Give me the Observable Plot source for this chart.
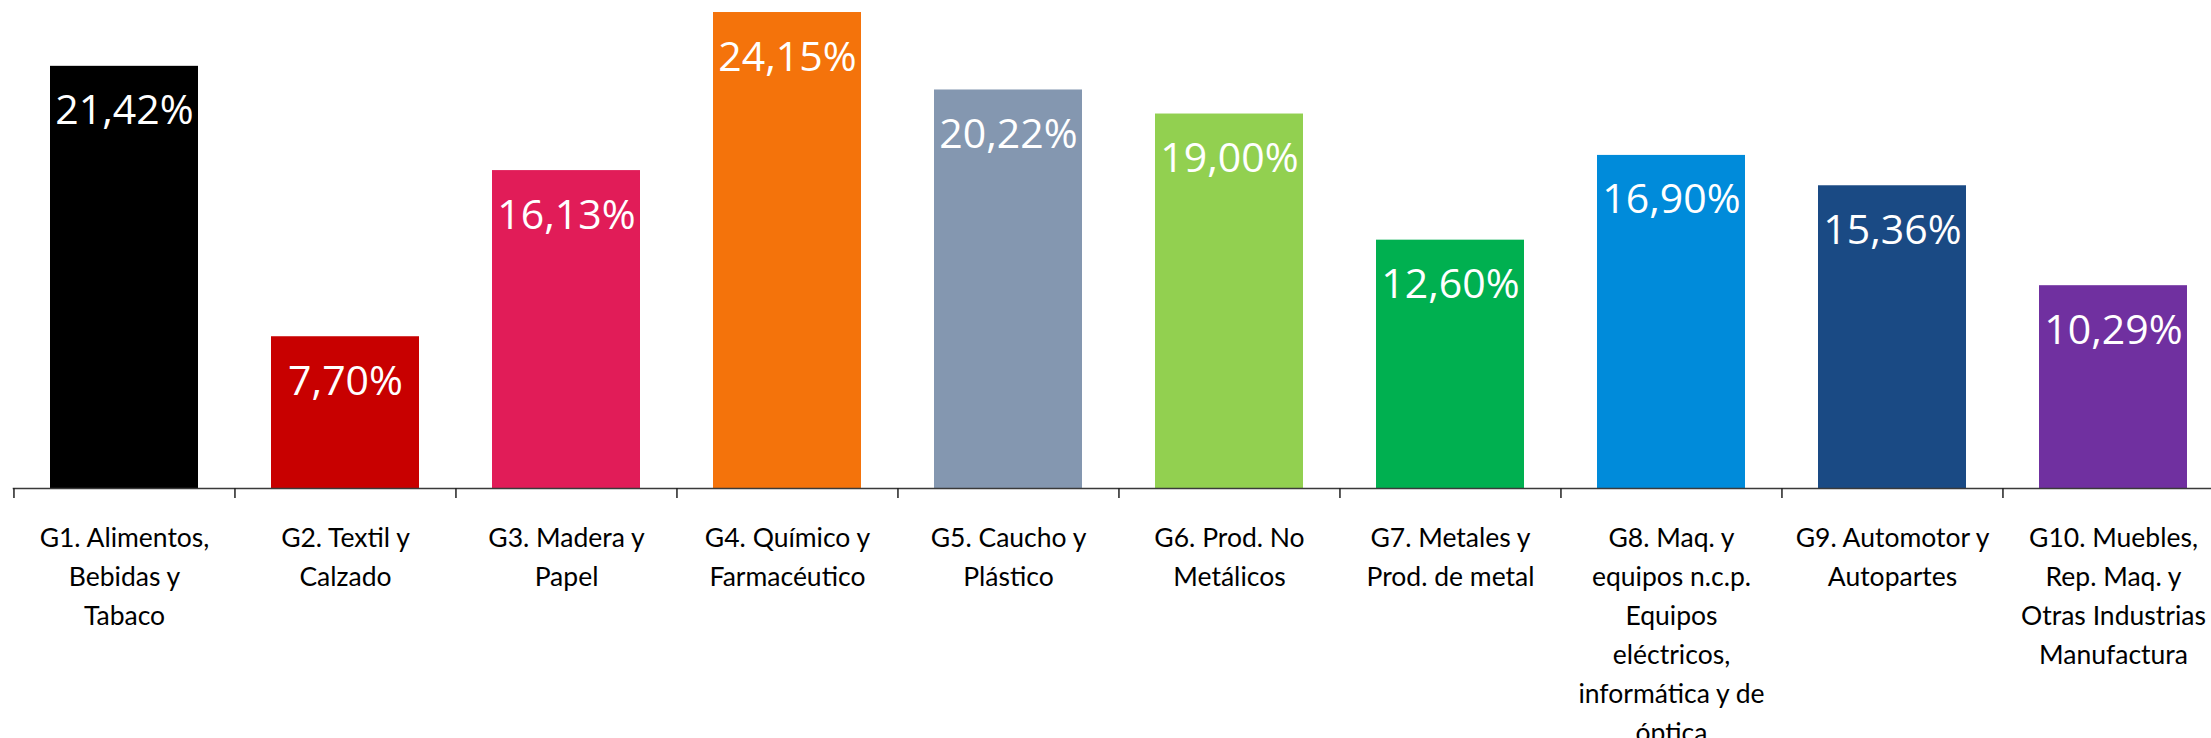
<!DOCTYPE html>
<html>
<head>
<meta charset="utf-8">
<script src="https://cdn.jsdelivr.net/npm/d3@7"></script>
<script src="https://cdn.jsdelivr.net/npm/@observablehq/plot@0.6"></script>
<style>
  html, body { margin: 0; padding: 0; background: #ffffff; }
  #chart svg { display: block; }
</style>
</head>
<body>
<div id="chart"></div>
<script>
const categories = ["G1","G2","G3","G4","G5","G6","G7","G8","G9","G10"];
const categoryLabels = [
  "G1. Alimentos,\nBebidas y\nTabaco",
  "G2. Textil y\nCalzado",
  "G3. Madera y\nPapel",
  "G4. Químico y\nFarmacéutico",
  "G5. Caucho y\nPlástico",
  "G6. Prod. No\nMetálicos",
  "G7. Metales y\nProd. de metal",
  "G8. Maq. y\nequipos n.c.p.\nEquipos\neléctricos,\ninformática y de\nóptica",
  "G9. Automotor y\nAutopartes",
  "G10. Muebles,\nRep. Maq. y\nOtras Industrias\nManufactura"
];
const values = [21.42, 7.70, 16.13, 24.15, 20.22, 19.00, 12.60, 16.90, 15.36, 10.29];
const colors = ["#000000","#C80000","#E11C58","#F4730B","#8497B0","#92D050","#00B050","#008BDA","#1A4A84","#7030A0"];

const data = categories.map((c, i) => ({cat: c, value: values[i], label: categoryLabels[i], color: colors[i]}));
const labelOf = new Map(data.map(d => [d.cat, d.label]));
const fmt = v => v.toFixed(2).replace(".", ",") + "%";

const W = 2211, H = 738;
const chart = Plot.plot({
  width: W,
  height: H,
  marginLeft: 12.7,
  marginRight: 0,
  marginTop: 0,
  marginBottom: 250,
  style: {background: "transparent"},
  x: {type: "band", domain: categories, range: [12.7, 2223.7], paddingInner: 0.33, paddingOuter: 0.165, axis: null},
  y: {domain: [0, 24.76], axis: null},
  marks: [
    Plot.barY(data, {x: "cat", y: "value", fill: d => d.color}),
    Plot.text(data, {x: "cat", y: "value", text: d => fmt(d.value), fill: "#ffffff",
      lineAnchor: "bottom", dy: 58, fontSize: 41, fontWeight: 500, fontFamily: "Open Sans"}),
    Plot.ruleY([0], {stroke: "#3a3a3a", strokeWidth: 1.5}),
    Plot.axisX({tickSize: 10, dx: -110.55, tickFormat: () => "", label: null, stroke: "#222", strokeWidth: 1.5}),
    Plot.axisX({tickSize: 0, tickPadding: 31, tickFormat: d => labelOf.get(d), label: null,
      fontSize: 26.5, lineHeight: 1.47, fontFamily: "Lato", fill: "#000"})
  ]
});
document.getElementById("chart").appendChild(chart);
</script>
</body>
</html>
